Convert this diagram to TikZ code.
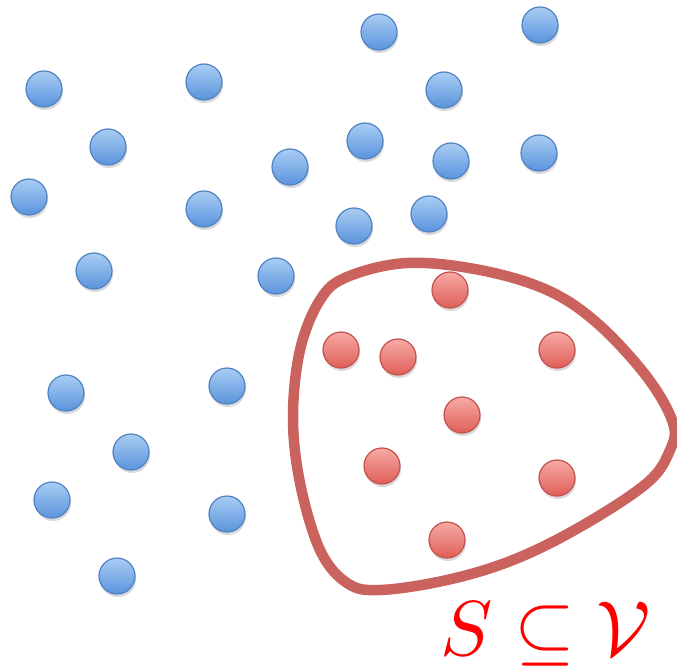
\documentclass[tikz,border=0pt]{standalone}
\usetikzlibrary{shadows}
\definecolor{bTop}{HTML}{A9CDF3}
\definecolor{bBot}{HTML}{5A94DC}
\definecolor{bEdge}{HTML}{4F82C4}
\definecolor{rTop}{HTML}{F7AAA5}
\definecolor{rBot}{HTML}{DF5F58}
\definecolor{rEdge}{HTML}{C4504C}
\definecolor{loop}{HTML}{CA635E}
\tikzset{
  dotbase/.style={circle, minimum size=36pt, inner sep=0pt, line width=1.2pt,
     drop shadow={shadow xshift=1pt, shadow yshift=-3pt, opacity=0.25, fill=black!60}},
  bluedot/.style={dotbase, draw=bEdge, top color=bTop, bottom color=bBot},
  reddot/.style={dotbase, draw=rEdge, top color=rTop, bottom color=rBot},
  setloop/.style={draw=loop, line width=10.5pt}
}
\begin{document}
\begin{tikzpicture}[x=1pt,y=-1pt]
\useasboundingbox (0,0) rectangle (677,668);
% blue dots
\foreach \n/\px/\py in {b1/379/32, b2/540/25, b3/44/89, b4/204/82, b5/444/90, b6/108/147,
  b7/365/141, b8/290/167, b9/451/161, b10/539/153, b11/29/197, b12/204/209, b13/354/226,
  b14/429/214, b15/94/271, b16/276/276, b17/66/393, b18/227/386, b19/131/452, b20/52/500,
  b21/227/514, b22/117/576}
  \node[bluedot] (\n) at (\px,\py) {};
% set loop
\draw[setloop] plot[smooth cycle, tension=0.6] coordinates {
  (670,450) (647,483) (580,527) (513,560) (447,580) (380,590) (347,583) (320,550)
  (300,483) (293,417) (300,350) (320,300) (347,277) (407,263) (480,270) (547,290)
  (597,323) (647,377) (673,423)};
% red dots
\foreach \n/\px/\py in {r1/450/290, r2/341/350, r3/398/357, r4/557/350, r5/462/415,
  r6/382/466, r7/557/478, r8/447/540}
  \node[reddot] (\n) at (\px,\py) {};
% label
\node[text=red, anchor=base, inner sep=0pt, scale=7.8] (lbl) at (546,655)
  {$S \subseteq \mathcal{V}$};
\end{tikzpicture}
\end{document}
